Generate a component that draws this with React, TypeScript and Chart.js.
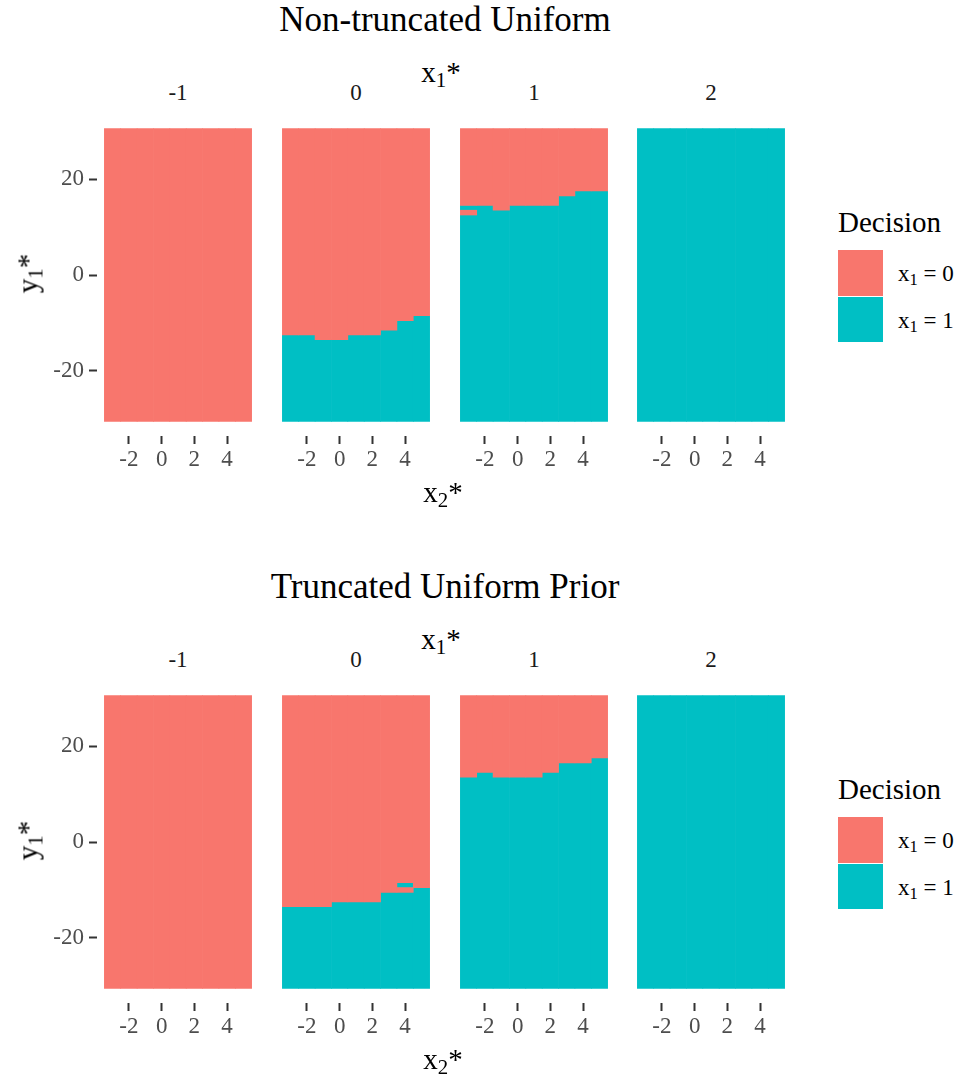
import React, { useEffect, useRef } from 'react';
import { Chart, registerables } from 'chart.js';

Chart.register(...registerables);

// ---------------- data ----------------
const X1_FACETS = ['-1', '0', '1', '2'];
const X2_VALUES = [-3, -2, -1, 0, 1, 2, 3, 4, 5];
const Y1_MIN = -30;
const Y1_MAX = 30;
const X_TICKS = [-2, 0, 2, 4];
const Y_TICKS = [-20, 0, 20];

// Highest y1* (for each x2*) at which the decision is x1 = 1 (x1 = 0 above it)
const nonTruncBoundaryM1 = [-31, -31, -31, -31, -31, -31, -31, -31, -31];
const nonTruncBoundary0 = [-13, -13, -14, -14, -13, -13, -12, -10, -9];
const nonTruncBoundary1 = [14, 14, 13, 14, 14, 14, 16, 17, 17];
const nonTruncBoundary2 = [30, 30, 30, 30, 30, 30, 30, 30, 30];
// isolated cells with the opposite decision: [x1*, x2*, y1*]
const nonTruncFlips: [string, number, number][] = [['1', -3, 13]];

const truncBoundaryM1 = [-31, -31, -31, -31, -31, -31, -31, -31, -31];
const truncBoundary0 = [-14, -14, -14, -13, -13, -13, -11, -11, -10];
const truncBoundary1 = [13, 14, 13, 13, 13, 14, 16, 16, 17];
const truncBoundary2 = [30, 30, 30, 30, 30, 30, 30, 30, 30];
const truncFlips: [string, number, number][] = [['0', 4, -9]];

const LEGEND_LABELS = ['0', '1'];

// ---------------- styling ----------------
const RED = '#F8766D';
const TEAL = '#00BFC4';
const FONT = "'Liberation Serif', 'Times New Roman', serif";
const TICK_PX = 23;
const STRIP_PX = 23;
const AXTITLE_PX = 29;
const TITLE_PX = 35;

const PANEL_LEFTS = [97, 275, 453, 630];
const PANEL_W = 162;
const PANEL_TOP = 114;
const PANEL_H = 322;
const X_AXIS_H = 44;

function buildSegments(boundary: number[], flips: [string, number, number][], facet: string) {
  const red: { x: number; y: [number, number] }[] = [];
  const teal: { x: number; y: [number, number] }[] = [];
  X2_VALUES.forEach((x, i) => {
    const decide = (y: number) => {
      let d = y <= boundary[i] ? 1 : 0;
      if (flips.some((f) => f[0] === facet && f[1] === x && f[2] === y)) d = 1 - d;
      return d;
    };
    let start = Y1_MIN;
    let cur = decide(Y1_MIN);
    for (let y = Y1_MIN + 1; y <= Y1_MAX + 1; y++) {
      const d = y <= Y1_MAX ? decide(y) : -1;
      if (d !== cur) {
        (cur === 1 ? teal : red).push({ x, y: [start - 0.5, y - 0.5] });
        start = y;
        cur = d;
      }
    }
  });
  return { red, teal };
}

function Facet(props: {
  left: number;
  top: number;
  showY: boolean;
  boundary: number[];
  flips: [string, number, number][];
  facet: string;
}) {
  const ref = useRef<HTMLCanvasElement | null>(null);
  const yW = props.showY ? PANEL_LEFTS[0] : 0;
  const width = PANEL_W + yW;
  const height = PANEL_H + X_AXIS_H;
  useEffect(() => {
    const { red, teal } = buildSegments(props.boundary, props.flips, props.facet);
    const barOpts = {
      grouped: false,
      barPercentage: 1,
      categoryPercentage: 1,
      borderWidth: 0,
      borderSkipped: false,
    };
    const tickFont = { family: FONT, size: TICK_PX };
    const chart = new Chart(ref.current as HTMLCanvasElement, {
      type: 'bar',
      data: {
        datasets: [
          { label: 'x1 = 0', data: red as any, backgroundColor: RED, ...barOpts },
          { label: 'x1 = 1', data: teal as any, backgroundColor: TEAL, ...barOpts },
        ],
      },
      options: {
        animation: false,
        responsive: false,
        maintainAspectRatio: false,
        layout: { padding: 0 },
        plugins: {
          legend: { display: false },
          tooltip: { enabled: false },
          title: { display: false },
        },
        scales: {
          x: {
            type: 'linear',
            offset: false,
            min: -3.95,
            max: 5.95,
            afterBuildTicks: (s: any) => {
              s.ticks = X_TICKS.map((v) => ({ value: v }));
            },
            ticks: {
              font: tickFont,
              color: '#4D4D4D',
              padding: 2,
              maxRotation: 0,
              autoSkip: false,
            },
            grid: {
              display: true,
              offset: false,
              drawOnChartArea: false,
              drawTicks: true,
              tickLength: 8,
              tickWidth: 2,
              tickColor: '#333333',
            },
            border: { display: false },
            afterFit: (s: any) => {
              s.height = X_AXIS_H;
              s.paddingLeft = 0;
              s.paddingRight = 0;
            },
          },
          y: {
            type: 'linear',
            display: props.showY,
            min: -33.55,
            max: 33.55,
            afterBuildTicks: (s: any) => {
              s.ticks = Y_TICKS.map((v) => ({ value: v }));
            },
            ticks: {
              font: tickFont,
              color: '#4D4D4D',
              padding: 5,
              autoSkip: false,
            },
            grid: {
              display: true,
              drawOnChartArea: false,
              drawTicks: true,
              tickLength: 8,
              tickWidth: 2,
              tickColor: '#333333',
            },
            border: { display: false },
            afterFit: (s: any) => {
              s.width = yW;
              s.paddingTop = 0;
              s.paddingBottom = 0;
            },
          },
        },
      } as any,
    });
    return () => chart.destroy();
  }, []);
  return (
    <canvas
      ref={ref}
      width={width}
      height={height}
      style={{ position: 'absolute', left: props.left - yW, top: props.top, width, height }}
    />
  );
}

function Txt(props: {
  x: number;
  baseline: number;
  size: number;
  color?: string;
  align?: 'center' | 'left';
  children: any;
}) {
  const top = props.baseline - 0.8375 * props.size;
  const style: any = {
    position: 'absolute',
    top,
    fontFamily: FONT,
    fontSize: props.size,
    lineHeight: 1,
    color: props.color || '#000',
    whiteSpace: 'nowrap',
  };
  if (props.align === 'left') {
    style.left = props.x;
  } else {
    style.left = props.x - 300;
    style.width = 600;
    style.textAlign = 'center';
  }
  return <div style={style}>{props.children}</div>;
}

const subStyle: any = { fontSize: '0.72em', verticalAlign: '-0.22em', lineHeight: 0 };

function Panel(props: {
  offset: number;
  title: string;
  boundaries: number[][];
  flips: [string, number, number][];
}) {
  const o = props.offset;
  const centerX = 445;
  return (
    <>
      <Txt x={centerX} baseline={31 + o} size={TITLE_PX}>
        {props.title}
      </Txt>
      <Txt x={centerX - 4} baseline={82 + o} size={AXTITLE_PX}>
        x<span style={subStyle}>1</span>*
      </Txt>
      {X1_FACETS.map((f, i) => (
        <Txt key={'s' + f} x={PANEL_LEFTS[i] + PANEL_W / 2} baseline={100 + o} size={STRIP_PX} color="#1A1A1A">
          {f}
        </Txt>
      ))}
      {X1_FACETS.map((f, i) => (
        <Facet
          key={'f' + f}
          left={PANEL_LEFTS[i]}
          top={PANEL_TOP + o}
          showY={i === 0}
          boundary={props.boundaries[i]}
          flips={props.flips}
          facet={f}
        />
      ))}
      <Txt x={centerX - 2} baseline={502 + o} size={AXTITLE_PX}>
        x<span style={subStyle}>2</span>*
      </Txt>
      <div
        style={{
          position: 'absolute',
          left: 28 - 100,
          top: 273 + o - AXTITLE_PX / 2,
          width: 200,
          height: AXTITLE_PX,
          lineHeight: `${AXTITLE_PX}px`,
          textAlign: 'center',
          fontFamily: FONT,
          fontSize: AXTITLE_PX,
          transform: 'rotate(-90deg)',
          whiteSpace: 'nowrap',
        }}
      >
        y<span style={subStyle}>1</span>*
      </div>
      {/* legend */}
      <Txt x={838} baseline={232 + o} size={AXTITLE_PX} align="left">
        Decision
      </Txt>
      {LEGEND_LABELS.map((lab, k) => (
        <React.Fragment key={'l' + lab}>
          <div
            style={{
              position: 'absolute',
              left: 837.5,
              top: 250 + o + k * 46.5,
              width: 45.5,
              height: 45.5,
              background: k === 0 ? RED : TEAL,
            }}
          />
          <Txt x={898} baseline={281.5 + o + k * 46.5} size={TICK_PX} align="left">
            x<span style={subStyle}>1</span> = {lab}
          </Txt>
        </React.Fragment>
      ))}
    </>
  );
}

export default function App() {
  return (
    <div
      style={{
        position: 'absolute',
        left: 0,
        top: 0,
        width: 957,
        height: 1076,
        background: '#FFFFFF',
        overflow: 'hidden',
      }}
    >
      <Panel
        offset={0}
        title="Non-truncated Uniform"
        boundaries={[nonTruncBoundaryM1, nonTruncBoundary0, nonTruncBoundary1, nonTruncBoundary2]}
        flips={nonTruncFlips}
      />
      <Panel
        offset={567}
        title="Truncated Uniform Prior"
        boundaries={[truncBoundaryM1, truncBoundary0, truncBoundary1, truncBoundary2]}
        flips={truncFlips}
      />
    </div>
  );
}
